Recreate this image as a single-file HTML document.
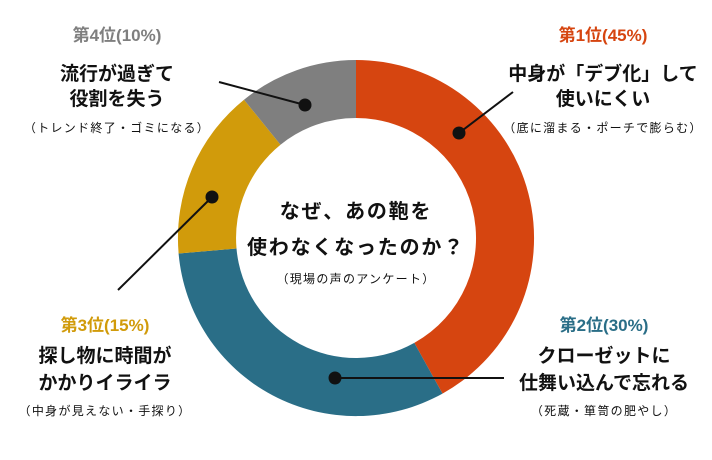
<!DOCTYPE html>
<html><head><meta charset="utf-8"><style>
body{margin:0;background:#fff}
svg text{font-family:"Liberation Sans","Noto Sans CJK JP",sans-serif;text-anchor:middle}
.r{font-size:17px;font-weight:bold}
.m{font-size:19px;font-weight:bold;fill:#111}
.p{font-size:12px;fill:#111;letter-spacing:1.3px}
</style></head><body>
<svg width="712" height="455" viewBox="0 0 712 455" xmlns="http://www.w3.org/2000/svg">
<g transform="translate(356,238)">
<path d="M0,-178 A178,178 0 0 1 86.5,155.6 L58.3,104.9 A120,120 0 0 0 0,-120Z" fill="#d64510"/>
<path d="M86.5,155.6 A178,178 0 0 1 -177.4,15.5 L-119.5,10.5 A120,120 0 0 0 58.3,104.9Z" fill="#2a6e87"/>
<path d="M-177.4,15.5 A178,178 0 0 1 -112,-138.3 L-75.5,-93.3 A120,120 0 0 0 -119.5,10.5Z" fill="#d19b0b"/>
<path d="M-112,-138.3 A178,178 0 0 1 0,-178 L0,-120 A120,120 0 0 0 -75.5,-93.3Z" fill="#7f7f7f"/>
</g>
<g stroke="#111" stroke-width="2">
<line x1="459" y1="133" x2="513" y2="92"/>
<line x1="305" y1="105" x2="219" y2="82"/>
<line x1="212" y1="197" x2="118" y2="290"/>
<line x1="335" y1="378" x2="504" y2="378"/>
</g>
<g fill="#111">
<circle cx="459" cy="133" r="6.5"/><circle cx="305" cy="105" r="6.5"/>
<circle cx="212" cy="197" r="6.5"/><circle cx="335" cy="378" r="6.5"/>
</g>
<text class="m" x="356" y="218" style="font-size:20px;letter-spacing:1.8px">なぜ、あの鞄を</text>
<text class="m" x="356" y="254" style="font-size:20px;letter-spacing:1.8px">使わなくなったのか？</text>
<text class="p" x="356" y="283">（現場の声のアンケート）</text>

<text class="r" x="117" y="41" fill="#7f7f7f">第4位(10%)</text>
<text class="m" x="117" y="80">流行が過ぎて</text>
<text class="m" x="117" y="105">役割を失う</text>
<text class="p" x="117" y="132">（トレンド終了・ゴミになる）</text>

<text class="r" x="603" y="41" fill="#d64510">第1位(45%)</text>
<text class="m" x="603" y="80">中身が「デブ化」して</text>
<text class="m" x="603" y="105">使いにくい</text>
<text class="p" x="603" y="132">（底に溜まる・ポーチで膨らむ）</text>

<text class="r" x="105" y="331" fill="#d19b0b">第3位(15%)</text>
<text class="m" x="105" y="362">探し物に時間が</text>
<text class="m" x="105" y="389">かかりイライラ</text>
<text class="p" x="105" y="415">（中身が見えない・手探り）</text>

<text class="r" x="604" y="331" fill="#2a6e87">第2位(30%)</text>
<text class="m" x="604" y="362">クローゼットに</text>
<text class="m" x="604" y="389">仕舞い込んで忘れる</text>
<text class="p" x="604" y="415">（死蔵・箪笥の肥やし）</text>
</svg>
</body></html>
